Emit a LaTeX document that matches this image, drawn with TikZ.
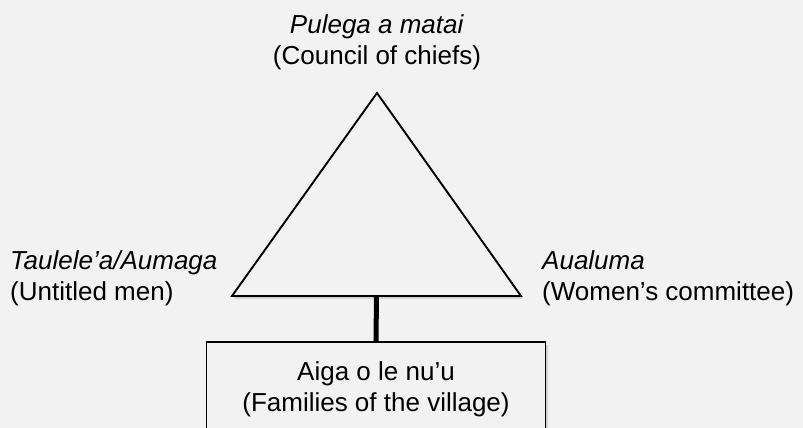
\documentclass[tikz,border=0pt]{standalone}
\usepackage{fontspec}
\setmainfont{Liberation Sans}
\usetikzlibrary{shadows}
\definecolor{bg}{RGB}{242,242,242}
\tikzset{
  lbl/.style={font=\fontsize{26}{31}\selectfont, inner sep=0pt},
  shape line/.style={draw=black, line width=1.9pt, fill=bg, line join=miter,
     drop shadow={shadow xshift=2pt, shadow yshift=-3pt, opacity=0.18, fill=black!70}},
  stem/.style={draw=black, line width=5pt}
}
\begin{document}
\begin{tikzpicture}[x=1pt,y=1pt]
\useasboundingbox (0,0) rectangle (803,428);
\fill[bg] (0,0) rectangle (803,428);
\clip (0,0) rectangle (803,428);
% triangle corners
\coordinate (apex) at (377,335);
\coordinate (bl) at (232,132);
\coordinate (br) at (521,132);
\coordinate (basemid) at (376.5,132);
\path[shape line] (apex) -- (br) -- (bl) -- cycle;
% box
\node[shape line, lbl, anchor=north, minimum width=339pt, minimum height=110pt] (box) at (376,87) {};
\node[lbl, align=center] (boxtext) at (376,39) {Aiga o le nu’u\\(Families of the village)};
\draw[stem] (basemid) -- (box.north);
% labels
\node[lbl, align=center] (top) at (377,386) {\textit{Pulega a matai}\\(Council of chiefs)};
\node[lbl, align=left, anchor=west] (left) at (10,150) {\textit{Taulele’a/Aumaga}\\(Untitled men)};
\node[lbl, align=left, anchor=west] (right) at (542,150) {\textit{Aualuma}\\(Women’s committee)};
\end{tikzpicture}
\end{document}
